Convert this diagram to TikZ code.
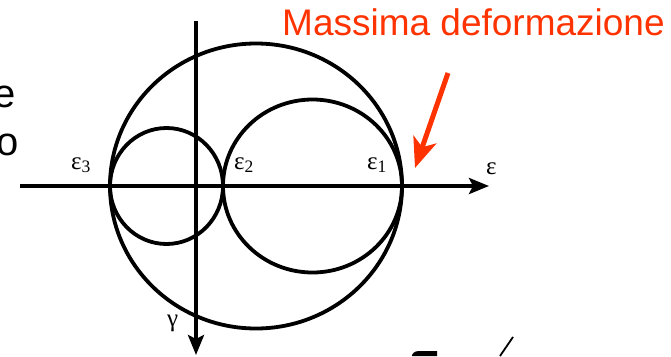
\documentclass[tikz,border=0pt]{standalone}
\usepackage{fontspec}
\setmainfont{Liberation Sans}
\newfontfamily\grk{Liberation Serif}
\usetikzlibrary{arrows.meta}
\definecolor{rosso}{RGB}{255,51,0}

\begin{document}
\begin{tikzpicture}[x=1pt,y=-1pt,line join=round,
	asse/.style={line width=3.8pt,-{Stealth[length=20pt,width=16pt,inset=4pt]}},
	cerchio/.style={line width=3.8pt},
	eps/.style={font=\grk\fontsize{25}{30}\selectfont,inner sep=0pt,anchor=base west}]
	\useasboundingbox (0,0) rectangle (671,356);
	\def \yc{186} %asse epsilon
	\def \xc{196} %asse gamma
	\coordinate (A) at (20,\yc);
	\coordinate (B) at (489,\yc);
	\coordinate (C) at (\xc,21);
	\coordinate (D) at (\xc,355);
	% cerchi di Mohr
	\draw[cerchio] (256,\yc) ellipse [x radius=146pt, y radius=142.5pt];
	\draw[cerchio] (166.5,\yc) ellipse [x radius=56.5pt, y radius=58pt];
	\draw[cerchio] (312.5,\yc) ellipse [x radius=89.5pt, y radius=86.5pt];
	\draw[asse] (A)--(B);
	\draw[asse] (C)--(D);
	\node[eps] (e3) at (71,169) {ε\textsubscript{3}};
	\node[eps] (e2) at (234,169) {ε\textsubscript{2}};
	\node[eps] (e1) at (367,169) {ε\textsubscript{1}};
	\node[eps] (e) at (486,174) {ε};
	\node[eps] (g) at (167,326) {γ};
	% etichetta
	\node[font=\fontsize{37}{44}\selectfont,text=rosso,inner sep=0pt,anchor=base west] (M) at (282,35) {Massima deformazione};
	\coordinate (P) at (448,73);
	\coordinate (Q) at (415,168);
	\draw[rosso,line width=5pt,-{Stealth[length=30pt,width=24pt,inset=8pt]}] (P)--(Q);
	% testo tagliato
	\node[font=\fontsize{40}{48}\selectfont,inner sep=0pt,anchor=base east] (t1) at (16,107) {e};
	\node[font=\fontsize{40}{48}\selectfont,inner sep=0pt,anchor=base east] (t2) at (19,155) {o};
	\fill (412,356) -- (412,355) .. controls (414,351) and (417,351) .. (422,351) -- (437,351) -- (437,356) -- cycle;
	\draw[line width=1.8pt] (513,337) -- (500,356);
\end{tikzpicture}
\end{document}
